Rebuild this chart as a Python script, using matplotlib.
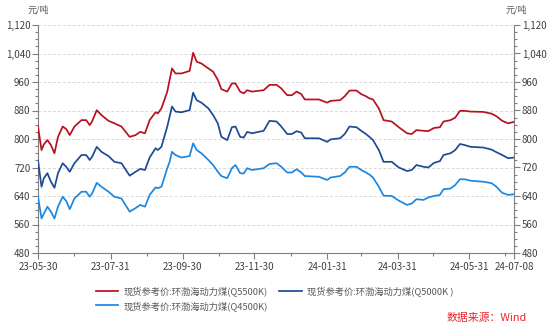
import matplotlib
matplotlib.use("Agg")
import matplotlib.pyplot as plt
import matplotlib.dates as mdates
from matplotlib.ticker import MultipleLocator, FuncFormatter
import pandas as pd

plt.rcParams['font.family'] = ['Noto Sans CJK SC', 'DejaVu Sans']

dates = ["2023-05-30","2023-06-02","2023-06-04","2023-06-07","2023-06-10","2023-06-13","2023-06-16",
         "2023-06-20","2023-06-23","2023-06-26","2023-06-30","2023-07-06","2023-07-10","2023-07-13",
         "2023-07-15","2023-07-19","2023-07-23","2023-07-29","2023-08-03","2023-08-09","2023-08-16",
         "2023-08-21","2023-08-25","2023-08-29","2023-09-02","2023-09-07","2023-09-09","2023-09-12",
         "2023-09-17","2023-09-19","2023-09-21","2023-09-24","2023-09-29","2023-10-06","2023-10-09",
         "2023-10-12","2023-10-16","2023-10-22","2023-10-26","2023-10-30","2023-11-02","2023-11-07",
         "2023-11-11","2023-11-14","2023-11-18","2023-11-21","2023-11-24","2023-11-28","2023-12-08",
         "2023-12-13","2023-12-19","2023-12-23","2023-12-28","2024-01-01","2024-01-05","2024-01-09",
         "2024-01-12","2024-01-24","2024-01-31","2024-02-03","2024-02-11","2024-02-15","2024-02-19",
         "2024-02-25","2024-02-29","2024-03-04","2024-03-07","2024-03-10","2024-03-15","2024-03-19",
         "2024-03-26","2024-04-01","2024-04-08","2024-04-12","2024-04-16","2024-04-22","2024-04-26",
         "2024-05-01","2024-05-06","2024-05-09","2024-05-15","2024-05-19","2024-05-23","2024-05-27",
         "2024-06-01","2024-06-12","2024-06-19","2024-06-23","2024-06-28","2024-07-03","2024-07-08"]

q5500 = [835,769,785,797,783,760,806,835,828,811,835,853,853,839,849,881,867,851,844,835,806,
         811,820,816,853,875,872,886,933,966,998,984,984,991,1042,1017,1012,998,989,966,940,933,
         956,956,933,928,937,933,937,952,952,942,923,923,933,926,911,911,902,907,909,920,936,
         936,926,920,914,911,886,853,849,833,816,814,825,823,822,831,833,849,853,860,879,879,
         877,876,871,864,851,844,848]

q5000 = [740,666,690,704,680,663,704,732,722,708,732,755,755,741,750,778,764,752,736,732,697,
         708,716,713,748,774,769,778,835,863,891,877,875,881,930,909,902,886,867,844,806,797,
         833,835,806,804,820,816,823,851,849,835,814,814,822,818,802,802,792,799,802,814,835,
         833,823,814,806,797,769,736,736,720,710,713,727,722,720,733,738,755,760,769,786,783,
         778,776,770,763,755,746,748]

q4500 = [638,577,590,610,596,577,610,638,626,603,633,652,652,638,647,677,666,652,638,633,596,
         606,615,610,643,664,662,666,718,736,764,755,748,752,788,769,760,741,727,708,696,690,
         718,727,704,703,718,713,718,730,732,722,706,706,715,706,696,694,685,692,696,706,722,
         722,713,706,700,692,666,641,640,627,615,619,631,629,636,640,643,659,661,671,687,687,
         683,680,676,666,649,643,645]

labels = ["现货参考价:环渤海动力煤(Q5500K)", "现货参考价:环渤海动力煤(Q5000K )", "现货参考价:环渤海动力煤(Q4500K)"]
colors = ["#B8101F", "#1C4A94", "#1B87E0"]

major_ticks = ["2023-05-30","2023-07-31","2023-09-30","2023-11-30","2024-01-31","2024-03-31","2024-05-31","2024-07-08"]
minor_ticks = ["2023-06-30","2023-08-31","2023-10-31","2023-12-31","2024-02-29","2024-04-30","2024-06-30"]

d = pd.to_datetime(dates)

fig = plt.figure(figsize=(5.5, 3.26), dpi=100)
ax = fig.add_axes([38/550, 1-253/326, 476/550, 228/326])

lines = []
for vals, lab, c in zip([q5500, q5000, q4500], labels, colors):
    ln, = ax.plot(d, vals, color=c, lw=1.25, label=lab, zorder=3)
    lines.append(ln)

ax.set_xlim(pd.Timestamp("2023-05-30"), pd.Timestamp("2024-07-08"))
ax.set_ylim(480, 1120)

ax.yaxis.set_major_locator(MultipleLocator(80))
ax.yaxis.set_minor_locator(MultipleLocator(20))
fmt = FuncFormatter(lambda v, p: f"{int(v):,}")
ax.yaxis.set_major_formatter(fmt)
ax.grid(axis='y', which='major', color='#d9d9d9', ls=(0, (3, 2)), lw=0.7)

mt = pd.to_datetime(major_ticks)
ax.set_xticks(mt)
ax.set_xticklabels([t.strftime("%y-%m-%d") for t in mt])
ax.set_xticks(pd.to_datetime(minor_ticks), minor=True)

ax.spines['top'].set_visible(False)
ax.spines['right'].set_visible(False)
for s in ['left', 'bottom']:
    ax.spines[s].set_color('#7f7f7f')
    ax.spines[s].set_linewidth(0.8)

ax.tick_params(axis='both', which='major', labelsize=7, colors='#7f7f7f', labelcolor='#404040', length=4, width=0.8, pad=1.5)
ax.tick_params(axis='both', which='minor', colors='#7f7f7f', length=2.5, width=0.8)
ax.tick_params(axis='x', which='major', pad=2.5)

ax2 = ax.twinx()
ax2.set_ylim(480, 1120)
ax2.yaxis.set_major_locator(MultipleLocator(80))
ax2.yaxis.set_minor_locator(MultipleLocator(20))
ax2.yaxis.set_major_formatter(fmt)
ax2.tick_params(axis='y', which='major', labelsize=7, colors='#7f7f7f', labelcolor='#404040', length=4, width=0.8, pad=1.5)
ax2.tick_params(axis='y', which='minor', colors='#7f7f7f', length=2.5, width=0.8)
for s in ['top', 'left', 'bottom']:
    ax2.spines[s].set_visible(False)
ax2.spines['right'].set_color('#7f7f7f')
ax2.spines['right'].set_linewidth(0.8)

fig.text(38/550, 1-10/326, "元/吨", fontsize=6.5, color='#595959', ha='center', va='center')
fig.text(516/550, 1-10/326, "元/吨", fontsize=6.5, color='#595959', ha='center', va='center')

handles = [lines[0], lines[2], lines[1]]
fig.legend(handles=handles, labels=[h.get_label() for h in handles], loc='upper left',
           bbox_to_anchor=(92/550, 1-283/326), ncol=2,
           frameon=False, fontsize=6.7, handlelength=2.4, handletextpad=0.6,
           columnspacing=1.2, labelspacing=0.45, labelcolor='#595959', borderaxespad=0)

fig.text(527/550, 1-318/326, "数据来源：Wind", fontsize=7.8, color='#E8252B', ha='right', va='center')

fig.savefig("out.png", dpi=100)
